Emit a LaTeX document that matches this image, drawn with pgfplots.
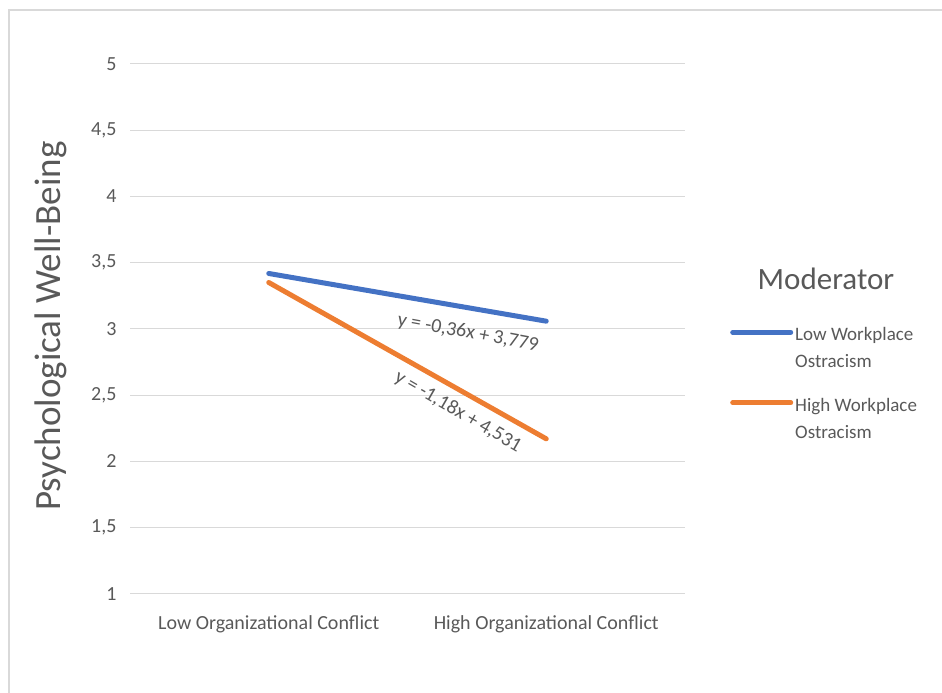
\documentclass[border=0pt]{standalone}
\usepackage{pgfplots}
\pgfplotsset{compat=1.18}
\usepackage{fontspec}
\setmainfont{Carlito}
\definecolor{xblue}{HTML}{4472C4}
\definecolor{xorange}{HTML}{ED7D31}
\definecolor{txt}{HTML}{595959}
\definecolor{gridc}{HTML}{D9D9D9}
\begin{document}
\begin{tikzpicture}[x=1pt,y=1pt]
\path[use as bounding box] (0pt,0pt) rectangle (942pt,693pt);
\draw[gridc, line width=1.2pt] (9pt,0pt) -- (9pt,683pt) -- (942pt,683pt);
\begin{axis}[
  at={(130pt,99pt)}, anchor=south west,
  scale only axis, width=555pt, height=530pt,
  xmin=0, xmax=2, ymin=1, ymax=5,
  xtick={0.5,1.5},
  xticklabels={Low Organizational Conflict, High Organizational Conflict},
  ytick={1,1.5,2,2.5,3,3.5,4,4.5,5},
  ymajorgrids, grid style={gridc, line width=1pt},
  axis line style={draw=none}, major tick style={draw=none},
  /pgf/number format/use comma,
  /pgf/number format/assume math mode=true,
  tick label style={font=\fontsize{20}{23}\selectfont, text=txt},
  yticklabel style={xshift=-10pt},
  xticklabel style={yshift=-18pt},
  legend style={at={(1.0757,0.521)}, anchor=north west, draw=none, fill=none,
    font=\fontsize{19}{27}\selectfont, text=txt, row sep=46pt},
  legend cell align=left,
  legend image code/.code={\draw[#1] (0pt,0pt) -- (58pt,0pt);},
]
\addplot[xblue, line width=5pt, line cap=round] coordinates {(0.5,3.419) (1.5,3.059)};
\addlegendentry{\begin{tabular}[t]{@{}l@{}}Low Workplace\\[0pt]Ostracism\end{tabular}}
\addplot[xorange, line width=5pt, line cap=round] coordinates {(0.5,3.351) (1.5,2.171)};
\addlegendentry{\begin{tabular}[t]{@{}l@{}}High Workplace\\[0pt]Ostracism\end{tabular}}
\node[rotate=-10.5, font=\fontsize{20}{22}\selectfont, text=txt] at (axis cs:1.218,2.970) {y = -0,36x + 3,779};
\node[rotate=-30, font=\fontsize{20}{22}\selectfont, text=txt] at (axis cs:1.182,2.374) {y = -1,18x + 4,531};
\end{axis}
\node[font=\fontsize{31}{34}\selectfont, text=txt] at (826pt,414pt) {Moderator};
\node[rotate=90, font=\fontsize{37}{40}\selectfont, text=txt] at (51pt,367pt) {Psychological Well-Being};
\end{tikzpicture}
\end{document}
